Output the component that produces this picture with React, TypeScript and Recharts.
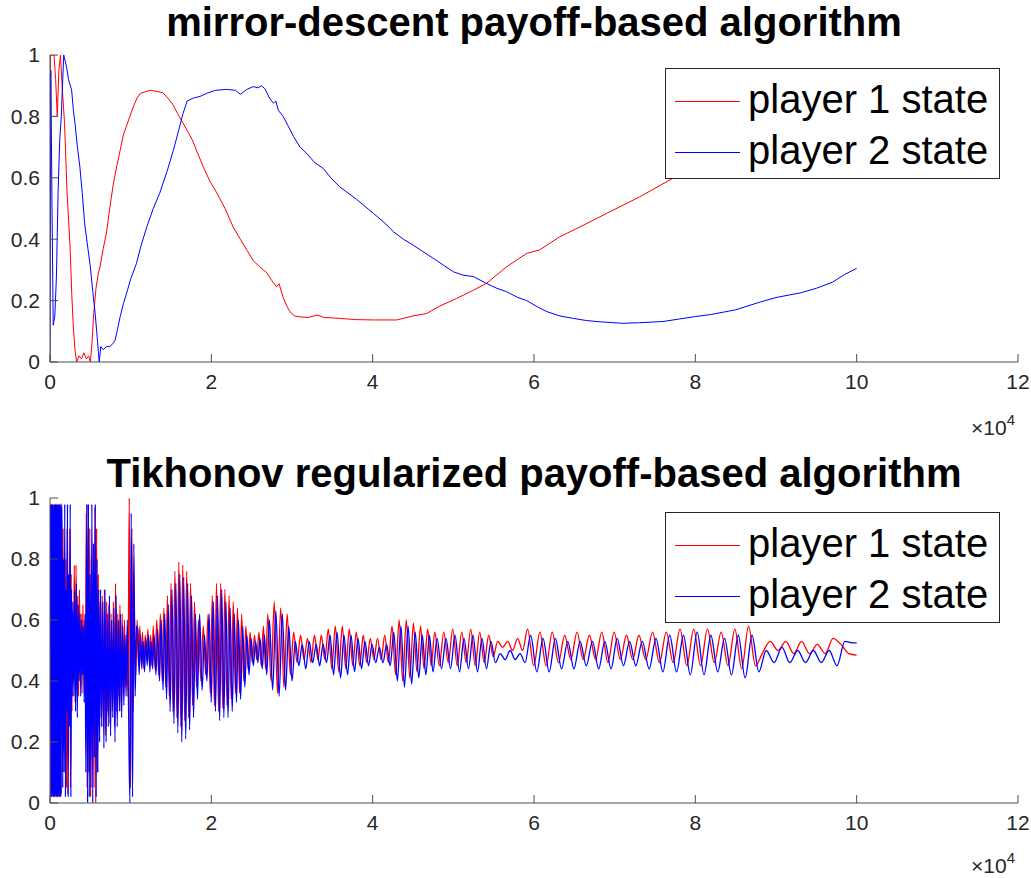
import { LineChart, Line, XAxis, YAxis, Legend } from 'recharts';

const FONT = '"Liberation Sans", Arial, Helvetica, sans-serif';
const AXIS = '#4d4d4d';
const TEXT = '#262626';

// x is in units of 10^4 iterations
const xTicks = [0, 2, 4, 6, 8, 10, 12];
const yTicks = [0, 0.2, 0.4, 0.6, 0.8, 1];
const seriesNames = ['player 1 state', 'player 2 state'];

// mirror-descent panel
const topRed: [number, number][] = [
  [0, 0.8], [0.005, 1.0], [0.05, 1.0], [0.07, 0.92], [0.09, 0.8], [0.11, 0.95], [0.13, 1.0], [0.15, 0.9],
  [0.18, 0.78], [0.21, 0.56], [0.25, 0.37], [0.27, 0.22], [0.29, 0.11], [0.31, 0.04], [0.33, 0.0], [0.36, 0.02],
  [0.39, 0.01], [0.42, 0.03], [0.45, 0.01], [0.48, 0.02], [0.5, 0.0], [0.52, 0.06], [0.54, 0.15], [0.57, 0.24],
  [0.6, 0.29], [0.62, 0.31], [0.66, 0.37], [0.7, 0.42], [0.74, 0.5], [0.785, 0.58], [0.83, 0.64], [0.87, 0.69],
  [0.91, 0.74], [0.95, 0.77], [0.99, 0.8], [1.03, 0.83], [1.08, 0.86], [1.12, 0.875], [1.18, 0.88], [1.24, 0.885],
  [1.32, 0.882], [1.4, 0.877], [1.46, 0.86], [1.52, 0.84], [1.58, 0.81], [1.65, 0.778], [1.71, 0.75], [1.77, 0.72],
  [1.83, 0.68], [1.9, 0.636], [1.98, 0.59], [2.07, 0.55], [2.17, 0.5], [2.27, 0.44], [2.36, 0.4], [2.44, 0.365],
  [2.52, 0.33], [2.6, 0.31], [2.69, 0.29], [2.75, 0.265], [2.81, 0.245], [2.84, 0.255], [2.89, 0.21], [2.94, 0.18],
  [2.975, 0.164], [3.03, 0.15], [3.1, 0.147], [3.2, 0.145], [3.31, 0.153], [3.4, 0.145], [3.59, 0.142], [3.8, 0.138],
  [4.01, 0.137], [4.3, 0.137], [4.5, 0.15], [4.67, 0.158], [4.83, 0.182], [5.04, 0.207], [5.25, 0.234], [5.41, 0.256],
  [5.66, 0.31], [5.91, 0.354], [6.07, 0.365], [6.32, 0.408], [6.57, 0.44], [6.9, 0.484], [7.31, 0.538], [7.8, 0.61],
  [8.5, 0.7], [9.2, 0.77], [10.0, 0.84],
];

const topBlue: [number, number][] = [
  [0, 0], [0.01, 0.95], [0.025, 0.5], [0.04, 0.12], [0.06, 0.15], [0.08, 0.28], [0.1, 0.55], [0.12, 0.72],
  [0.14, 0.8], [0.17, 1.0], [0.206, 0.96], [0.23, 0.92], [0.268, 0.886], [0.29, 0.82], [0.31, 0.777], [0.34, 0.7],
  [0.37, 0.636], [0.4, 0.55], [0.43, 0.45], [0.46, 0.39], [0.5, 0.31], [0.53, 0.23], [0.56, 0.158], [0.585, 0.08],
  [0.61, 0.0], [0.63, 0.05], [0.66, 0.04], [0.7, 0.05], [0.74, 0.05], [0.78, 0.06], [0.806, 0.07], [0.84, 0.11],
  [0.87, 0.148], [0.91, 0.19], [0.95, 0.224], [1.0, 0.27], [1.07, 0.32], [1.13, 0.38], [1.2, 0.44], [1.28, 0.5],
  [1.36, 0.55], [1.45, 0.62], [1.53, 0.69], [1.6, 0.76], [1.65, 0.81], [1.7, 0.85], [1.78, 0.86], [1.86, 0.865],
  [1.94, 0.875], [2.05, 0.885], [2.19, 0.888], [2.3, 0.885], [2.36, 0.872], [2.4, 0.88], [2.44, 0.888], [2.52, 0.897],
  [2.58, 0.893], [2.62, 0.9], [2.665, 0.89], [2.72, 0.86], [2.77, 0.843], [2.8, 0.85], [2.83, 0.82], [2.89, 0.8],
  [2.95, 0.77], [3.02, 0.734], [3.1, 0.7], [3.18, 0.68], [3.28, 0.65], [3.39, 0.63], [3.48, 0.6], [3.59, 0.571],
  [3.8, 0.53], [4.01, 0.484], [4.14, 0.455], [4.26, 0.424], [4.38, 0.4], [4.5, 0.381], [4.62, 0.36], [4.75, 0.338],
  [4.88, 0.315], [5.0, 0.294], [5.12, 0.283], [5.25, 0.278], [5.41, 0.256], [5.54, 0.24], [5.66, 0.229], [5.8, 0.21],
  [5.91, 0.2], [6.04, 0.18], [6.16, 0.164], [6.32, 0.15], [6.49, 0.142], [6.65, 0.135], [6.82, 0.131], [7.1, 0.126],
  [7.31, 0.128], [7.6, 0.132], [7.8, 0.14], [8.0, 0.148], [8.2, 0.155], [8.5, 0.17], [8.8, 0.195], [9.0, 0.21],
  [9.3, 0.225], [9.5, 0.24], [9.7, 0.26], [9.85, 0.285], [10.0, 0.305],
];

// Tikhonov panel: each segment [from, to) holds alternating peaks / troughs
const bottomSegments: [number, number][] = [
  [0, 0.145], [0.145, 0.28], [0.28, 0.45], [0.45, 0.62], [0.62, 0.95], [0.95, 1.08], [1.08, 1.28], [1.28, 1.5],
  [1.5, 1.84], [1.84, 1.96], [1.96, 2.48], [2.48, 2.7], [2.7, 3.02], [3.02, 3.45], [3.45, 3.97], [3.97, 4.24],
  [4.24, 4.77], [4.77, 5.55], [5.55, 5.92], [5.92, 6.38], [6.38, 7.3], [7.3, 8.83], [8.83, 10],
];

const bottomRed: number[][] = [
  [0.62, 0.97, 0.03, 0.98, 0.02, 0.97, 0.04, 0.98, 0.02, 0.96, 0.03, 0.98, 0.02, 0.97, 0.03, 0.98, 0.02, 0.97, 0.03, 0.98, 0.02, 0.97, 0.04, 0.98, 0.02, 0.96, 0.03, 0.98, 0.02, 0.97],
  [0.97, 0.1, 0.9, 0.2, 0.78, 0.15, 0.8, 0.05, 0.9, 0.03, 0.7, 0.3, 0.9, 0.05, 0.75, 0.3],
  [0.62, 0.4, 0.78, 0.33, 0.78, 0.45, 0.68, 0.35, 0.7, 0.4, 0.62, 0.36, 0.65, 0.42, 0.6, 0.4],
  [0.95, 0.05, 0.98, 0.1, 0.9, 0.02, 0.8, 0.15, 0.85, 0.05, 0.97, 0.0, 0.9, 0.1, 0.75, 0.25],
  [0.66, 0.28, 0.68, 0.25, 0.7, 0.22, 0.66, 0.3, 0.65, 0.26, 0.62, 0.3, 0.66, 0.25, 0.72, 0.3, 0.62, 0.35, 0.65, 0.3, 0.62, 0.36, 0.6, 0.38],
  [0.55, 0.35, 1.0, 0.05, 0.9, 0.3, 0.62, 0.42],
  [0.6, 0.45, 0.58, 0.46, 0.56, 0.44, 0.55, 0.47, 0.57, 0.46, 0.55, 0.45],
  [0.58, 0.44, 0.6, 0.42, 0.62, 0.4, 0.64, 0.38, 0.68, 0.35],
  [0.72, 0.3, 0.76, 0.28, 0.79, 0.25, 0.78, 0.27, 0.76, 0.28, 0.72, 0.32, 0.66, 0.38],
  [0.6, 0.4, 0.58, 0.42],
  [0.62, 0.36, 0.68, 0.32, 0.72, 0.3, 0.72, 0.31, 0.7, 0.32, 0.68, 0.34, 0.66, 0.36, 0.64, 0.36, 0.62, 0.4, 0.58, 0.44],
  [0.56, 0.46, 0.55, 0.47, 0.56, 0.45, 0.58, 0.44],
  [0.62, 0.4, 0.66, 0.36, 0.64, 0.38, 0.62, 0.42],
  [0.56, 0.46, 0.55, 0.47, 0.54, 0.46, 0.55, 0.47, 0.55, 0.47],
  [0.57, 0.44, 0.58, 0.43, 0.58, 0.44, 0.57, 0.45, 0.56, 0.45, 0.55, 0.46],
  [0.54, 0.47, 0.54, 0.47, 0.55, 0.46],
  [0.58, 0.42, 0.6, 0.4, 0.6, 0.41, 0.59, 0.43, 0.58, 0.44, 0.57, 0.45],
  [0.56, 0.45, 0.56, 0.46, 0.57, 0.45, 0.56, 0.46, 0.57, 0.45, 0.56, 0.46, 0.55, 0.48],
  [0.53, 0.51, 0.53, 0.5, 0.54, 0.5],
  [0.57, 0.45, 0.56, 0.45, 0.56, 0.46],
  [0.55, 0.47, 0.56, 0.47, 0.55, 0.47, 0.56, 0.46, 0.56, 0.47, 0.55, 0.47],
  [0.55, 0.47, 0.56, 0.46, 0.56, 0.46, 0.57, 0.45, 0.57, 0.45, 0.57, 0.46, 0.56, 0.45, 0.57, 0.44, 0.58, 0.45],
  [0.49, 0.53, 0.5, 0.53, 0.49, 0.53, 0.49, 0.52, 0.49, 0.54, 0.52, 0.49],
];

const bottomBlue: number[][] = [
  [0.5, 0.98, 0.02, 0.98, 0.02, 0.98, 0.03, 0.98, 0.02, 0.97, 0.02, 0.98, 0.02, 0.98, 0.03, 0.98, 0.02, 0.98, 0.02, 0.97, 0.02, 0.98, 0.03, 0.98, 0.02, 0.98, 0.02, 0.97, 0.03, 0.98],
  [0.98, 0.05, 0.8, 0.1, 0.98, 0.02, 0.7, 0.3, 0.98, 0.02, 0.75, 0.25, 0.98, 0.02, 0.7, 0.35],
  [0.66, 0.35, 0.7, 0.3, 0.72, 0.28, 0.65, 0.4, 0.62, 0.35, 0.6, 0.42, 0.58, 0.33, 0.62, 0.1],
  [0.98, 0.0, 0.98, 0.02, 0.75, 0.05, 0.98, 0.0, 0.85, 0.15, 0.98, 0.02, 0.8, 0.1, 0.7, 0.2],
  [0.7, 0.25, 0.66, 0.18, 0.7, 0.2, 0.62, 0.25, 0.68, 0.22, 0.6, 0.28, 0.64, 0.2, 0.68, 0.25, 0.6, 0.3, 0.62, 0.28, 0.58, 0.32, 0.55, 0.35],
  [0.6, 0.3, 0.0, 0.95, 0.02, 0.85, 0.35, 0.58],
  [0.57, 0.42, 0.55, 0.44, 0.53, 0.43, 0.54, 0.45, 0.55, 0.43, 0.53, 0.44],
  [0.55, 0.42, 0.57, 0.4, 0.6, 0.37, 0.62, 0.34, 0.65, 0.3],
  [0.7, 0.26, 0.72, 0.23, 0.75, 0.2, 0.74, 0.21, 0.72, 0.24, 0.68, 0.28, 0.62, 0.34],
  [0.62, 0.37, 0.55, 0.4],
  [0.62, 0.33, 0.66, 0.3, 0.68, 0.27, 0.7, 0.28, 0.66, 0.28, 0.64, 0.3, 0.62, 0.33, 0.6, 0.34, 0.58, 0.38, 0.55, 0.42],
  [0.54, 0.45, 0.53, 0.46, 0.54, 0.44, 0.55, 0.42],
  [0.6, 0.37, 0.63, 0.35, 0.62, 0.37, 0.58, 0.4],
  [0.53, 0.45, 0.52, 0.44, 0.53, 0.46, 0.52, 0.45, 0.52, 0.46],
  [0.55, 0.42, 0.56, 0.41, 0.55, 0.42, 0.55, 0.43, 0.54, 0.44, 0.53, 0.45],
  [0.52, 0.46, 0.51, 0.46, 0.52, 0.45],
  [0.56, 0.4, 0.58, 0.38, 0.58, 0.39, 0.56, 0.41, 0.55, 0.42, 0.55, 0.43],
  [0.54, 0.44, 0.54, 0.44, 0.55, 0.43, 0.54, 0.44, 0.55, 0.43, 0.54, 0.44, 0.53, 0.46],
  [0.49, 0.47, 0.5, 0.47, 0.49, 0.46],
  [0.55, 0.43, 0.54, 0.43, 0.54, 0.44],
  [0.53, 0.44, 0.53, 0.45, 0.53, 0.44, 0.53, 0.44, 0.54, 0.45, 0.53, 0.45],
  [0.53, 0.44, 0.54, 0.43, 0.55, 0.43, 0.55, 0.42, 0.56, 0.42, 0.55, 0.43, 0.54, 0.42, 0.55, 0.41, 0.55, 0.43],
  [0.5, 0.46, 0.51, 0.46, 0.5, 0.46, 0.5, 0.46, 0.5, 0.45, 0.53, 0.525],
];

const bottomEnd = { red: 0.485, blue: 0.525 };

const toPoints = (pairs: [number, number][]) => pairs.map(([x, y]) => ({ x, y }));

// blue lags red by a quarter period, i.e. half a sample step
function segmentPoints(values: number[][], shift: number, end: number) {
  const pts: { x: number; y: number }[] = [];
  bottomSegments.forEach(([from, to], i) => {
    const vals = values[i];
    const step = (to - from) / vals.length;
    vals.forEach((v, k) => pts.push({ x: from + (k + shift) * step, y: v }));
  });
  pts.push({ x: 10, y: end });
  return pts;
}

function PlotLegend({ payload }: any) {
  return (
    <div
      style={{
        width: 335,
        height: 111,
        boxSizing: 'border-box',
        border: `1px solid ${TEXT}`,
        background: '#fff',
        paddingTop: 7,
      }}
    >
      {(payload || []).map((p: any) => (
        <div key={p.value} style={{ display: 'flex', alignItems: 'center', height: 51 }}>
          <div style={{ width: 65, height: 1, background: p.color, marginLeft: 9 }} />
          <span
            style={{
              marginLeft: 8,
              fontSize: 40,
              lineHeight: '40px',
              fontFamily: FONT,
              color: '#000',
              position: 'relative',
              top: -3,
            }}
          >
            {p.value}
          </span>
        </div>
      ))}
    </div>
  );
}

function ExpLabel({ viewBox, offset }: any) {
  const { x, y, width } = viewBox;
  return (
    <text x={x + width - 3} y={y + offset} textAnchor="end" fontSize={21} fill={TEXT} fontFamily={FONT}>
      ×10<tspan dy={-10} fontSize={15}>4</tspan>
    </text>
  );
}

function Panel({
  height,
  marginTop,
  marginBottom,
  legendTop,
  expOffset,
  lineWidth,
  red,
  blue,
  curve,
}: {
  height: number;
  marginTop: number;
  marginBottom: number;
  legendTop: number;
  expOffset: number;
  lineWidth: number;
  red: { x: number; y: number }[];
  blue: { x: number; y: number }[];
  curve: 'linear' | 'monotone';
}) {
  const tickStyle = { fill: TEXT, fontSize: 21, fontFamily: FONT };
  return (
    <LineChart width={1031} height={height} margin={{ top: marginTop, right: 13, left: 0, bottom: marginBottom }}>
      <XAxis
        dataKey="x"
        type="number"
        domain={[0, 12]}
        ticks={xTicks}
        allowDataOverflow
        stroke={AXIS}
        tick={tickStyle}
        tickSize={-8}
        tickMargin={20}
        height={30}
        label={{ content: (props: any) => <ExpLabel viewBox={props.viewBox} offset={expOffset} /> }}
      />
      <XAxis
        xAxisId="top"
        orientation="top"
        dataKey="x"
        type="number"
        domain={[0, 12]}
        ticks={xTicks}
        stroke={AXIS}
        tick={false}
        tickSize={-8}
        height={0}
      />
      <YAxis
        type="number"
        domain={[0, 1]}
        ticks={yTicks}
        allowDataOverflow
        stroke={AXIS}
        tick={tickStyle}
        tickSize={-8}
        tickMargin={18}
        width={50}
      />
      <YAxis
        yAxisId="right"
        orientation="right"
        type="number"
        domain={[0, 1]}
        ticks={yTicks}
        stroke={AXIS}
        tick={false}
        tickSize={-8}
        width={0}
      />
      <Line
        data={red}
        dataKey="y"
        name={seriesNames[0]}
        type={curve}
        stroke="#ff0000"
        strokeWidth={lineWidth}
        dot={false}
        isAnimationActive={false}
      />
      <Line
        data={blue}
        dataKey="y"
        name={seriesNames[1]}
        type={curve}
        stroke="#0000ff"
        strokeWidth={lineWidth}
        dot={false}
        isAnimationActive={false}
      />
      <Legend
        layout="horizontal"
        verticalAlign="middle"
        align="center"
        width={335}
        height={111}
        content={<PlotLegend />}
        wrapperStyle={{ left: 665, top: legendTop, width: 335, height: 111 }}
      />
    </LineChart>
  );
}

const titleStyle = {
  position: 'absolute' as const,
  left: 50,
  width: 968,
  textAlign: 'center' as const,
  fontFamily: FONT,
  fontWeight: 'bold' as const,
  fontSize: 40,
  lineHeight: '40px',
  color: '#000',
  whiteSpace: 'nowrap' as const,
};

export default function App() {
  const bottomRedPts = segmentPoints(bottomRed, 0, bottomEnd.red);
  const bottomBluePts = segmentPoints(bottomBlue, 0.5, bottomEnd.blue);
  return (
    <div style={{ position: 'absolute', left: 0, top: 0, width: 1031, height: 878, background: '#fff', overflow: 'hidden' }}>
      <div style={{ position: 'absolute', left: 0, top: 0 }}>
        <Panel
          height={445}
          marginTop={55}
          marginBottom={53}
          legendTop={68}
          expOffset={73}
          lineWidth={1}
          red={toPoints(topRed)}
          blue={toPoints(topBlue)}
          curve="linear"
        />
      </div>
      <div style={{ position: 'absolute', left: 0, top: 445 }}>
        <Panel
          height={433}
          marginTop={53}
          marginBottom={45}
          legendTop={67}
          expOffset={70}
          lineWidth={1.3}
          red={bottomRedPts}
          blue={bottomBluePts}
          curve="monotone"
        />
      </div>
      <div style={{ ...titleStyle, top: 2 }}>mirror-descent payoff-based algorithm</div>
      <div style={{ ...titleStyle, top: 453 }}>Tikhonov regularized payoff-based algorithm</div>
    </div>
  );
}
